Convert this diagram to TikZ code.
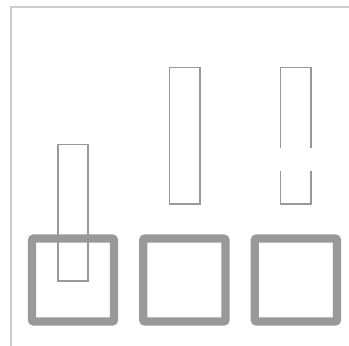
\documentclass[tikz,border=0pt]{standalone}
\begin{document}
\begin{tikzpicture}[x=1pt,y=-1pt,
  framec/.style={draw=black!20,line width=1.5pt},
  bar/.style={draw=black!40,line width=1.3pt},
  slot/.style={draw=black!40,line width=8.3pt,rounded corners=2pt}]
\useasboundingbox (0,0) rectangle (349,346);
\draw[framec] (11,346) -- (11,7) -- (349,7);
\draw[slot] (32,238.5) rectangle (114,321.5);
\draw[slot] (143.2,238.5) rectangle (225.5,321.5);
\draw[slot] (254.8,238.5) rectangle (337,321.5);
\draw[bar] (58,144.5) rectangle (88,281);
\draw[bar] (169.5,67.5) rectangle (200,204);
\draw[bar] (280.7,148.3) -- (280.7,67.5) -- (311,67.5) -- (311,148.3);
\draw[bar] (280.7,171) -- (280.7,204) -- (311,204) -- (311,171);
\end{tikzpicture}
\end{document}
